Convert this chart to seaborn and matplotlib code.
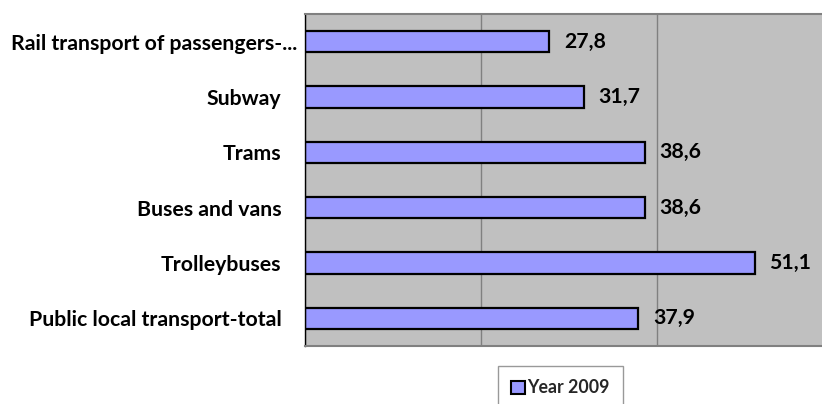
import matplotlib
matplotlib.use("Agg")
import matplotlib.pyplot as plt
import matplotlib.transforms as mtransforms
from matplotlib.patches import Patch
from matplotlib.ticker import FixedLocator
import seaborn as sns
import pandas as pd

categories = [
    "Rail transport of passengers-...",
    "Subway",
    "Trams",
    "Buses and vans",
    "Trolleybuses",
    "Public local transport-total",
]
values_2009 = [27.8, 31.7, 38.6, 38.6, 51.1, 37.9]
series_name = "Year 2009"

df = pd.DataFrame({"category": categories, "value": values_2009})

sns.set_theme(style="white")
plt.rcParams["font.family"] = ["Lato", "DejaVu Sans"]
plt.rcParams["font.weight"] = "bold"

FS = 15.3
LEG_FS = 12.8
W, H = 822, 404
fig = plt.figure(figsize=(W / 100, H / 100), dpi=100)
fig.patch.set_facecolor("white")
left, right, top, bottom = 304.5, 833.0, 14.0, 346.0
ax = fig.add_axes([left / W, (H - bottom) / H, (right - left) / W, (bottom - top) / H])

bar_color = "#9999FF"
sns.barplot(data=df, y="category", x="value", orient="h", color=bar_color,
            edgecolor="black", linewidth=1.6, width=0.38, saturation=1, ax=ax)

ax.set_facecolor("#C0C0C0")
ax.set_xlim(0, 60)
ax.set_ylim(len(categories) - 0.5, -0.5)
ax.set_xlabel("")
ax.set_ylabel("")
ax.set_xticks([0, 20, 40, 60])
ax.set_xticklabels([])
ax.tick_params(axis="x", length=0)
ax.xaxis.grid(True, color="#808080", linewidth=1.0)
ax.set_axisbelow(True)

# category labels at centers, tick marks at category boundaries
ax.tick_params(axis="y", which="major", length=0, pad=16.5, labelsize=FS)
ax.yaxis.set_minor_locator(FixedLocator([i - 0.5 for i in range(len(categories) + 1)]))
ax.tick_params(axis="y", which="minor", length=6, width=1, color="black", direction="out")
for lab in ax.get_yticklabels():
    lab.set_fontweight("bold")
    lab.set_color("black")
# the truncated first label sits closer to the axis
first = ax.get_yticklabels()[0]
first.set_transform(first.get_transform() + mtransforms.ScaledTranslation(16 / 100, 0, fig.dpi_scale_trans))

for side in ["top", "bottom"]:
    ax.spines[side].set_color("#808080")
    ax.spines[side].set_linewidth(1.5)
ax.spines["left"].set_color("black")
ax.spines["left"].set_linewidth(1.0)
ax.spines["right"].set_visible(False)

labels = [f"{v:.1f}".replace(".", ",") for v in values_2009]
ax.bar_label(ax.containers[0], labels=labels, padding=10.5, fontsize=FS,
             fontweight="bold", color="black")

handle = Patch(facecolor=bar_color, edgecolor="black", linewidth=1.5)
leg = fig.legend([handle], [series_name], loc="upper center",
                 bbox_to_anchor=(560.5 / W, (H - 366) / H), frameon=True,
                 fancybox=False, edgecolor="#808080",
                 handlelength=0.75, handleheight=0.75, handletextpad=0.15,
                 borderpad=0.75, borderaxespad=0,
                 prop={"weight": "bold", "size": LEG_FS})
leg.get_frame().set_linewidth(1.0)

fig.savefig("out.png", dpi=100)
